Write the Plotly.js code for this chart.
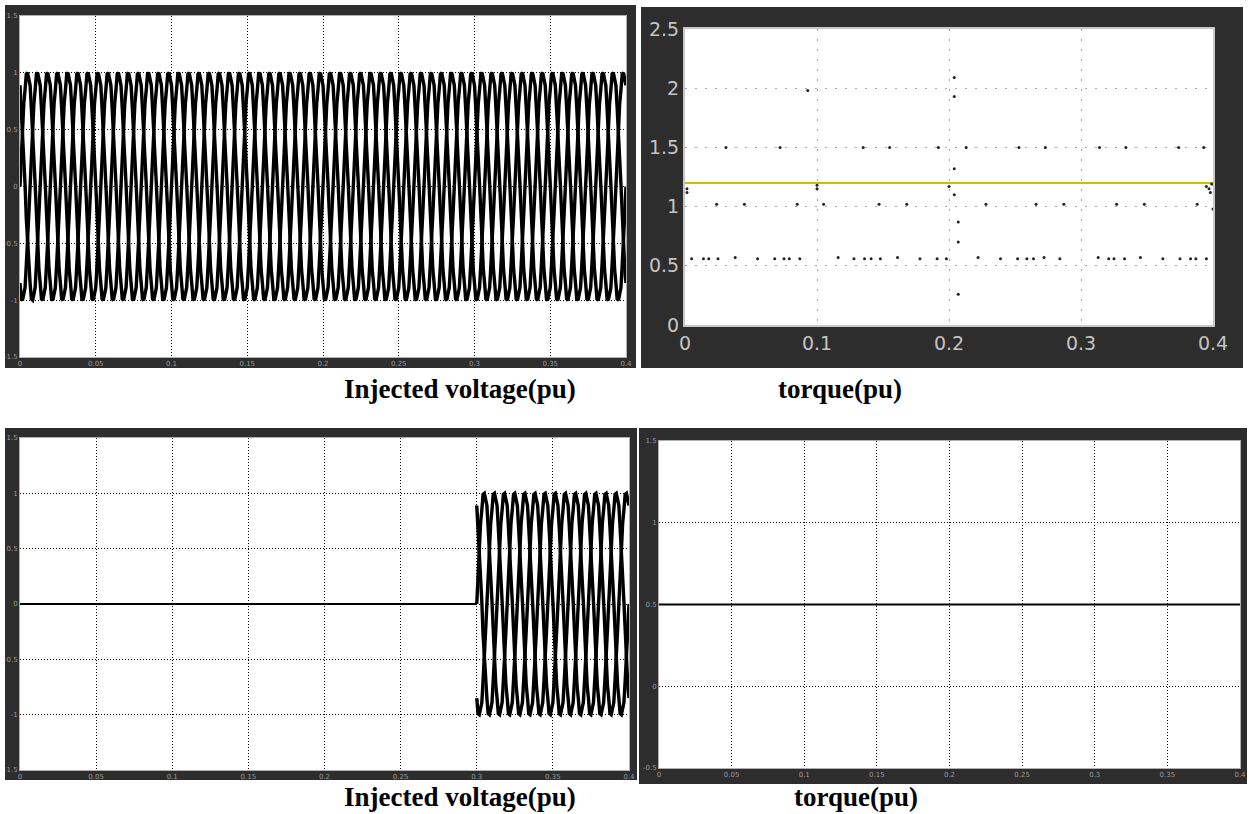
<!DOCTYPE html>
<html>
<head>
<meta charset="utf-8">
<script src="https://cdn.plot.ly/plotly-3.0.1.min.js"></script>
<style>
html,body{margin:0;padding:0;background:#fff;}
#chart{width:1249px;height:814px;}
</style>
</head>
<body>
<div id="chart"></div>
<script>
// ---------- data ----------
// one period of the injected three-phase voltage (pu), 24 samples (with PWM ripple)
const cycleSamples = [0, 0.28, 0.48, 0.73, 0.85, 0.99, 1, 0.95, 0.89, 0.69, 0.52, 0.24,
                      0.02, -0.28, -0.48, -0.73, -0.85, -0.99, -1, -0.95, -0.89, -0.69, -0.52, -0.24];
const supplyFreqHz = 50;
const phaseOffsets = [0, 8, 16];          // 120 degree shifts, in samples
const simEndTime = 0.4;
const injectStartTime = 0.3;              // lower-left: injection starts at 0.3 s

const voltTickVals = [-1.5, -1, -0.5, 0, 0.5, 1, 1.5];
const voltTickText = ["-1.5", "-1", "-0.5", "0", "0.5", "1", "1.5"];
const timeTickVals = [0, 0.05, 0.1, 0.15, 0.2, 0.25, 0.3, 0.35, 0.4];
const timeTickText = ["0", "0.05", "0.1", "0.15", "0.2", "0.25", "0.3", "0.35", "0.4"];

// top-right torque
const torqueLineT = [0, 0.4];
const torqueLineY = [1.2, 1.2];
const torqueDotsT = [0.031, 0.072, 0.135, 0.155, 0.192, 0.213, 0.253, 0.273, 0.314, 0.334, 0.374, 0.393,
  0.093,
  0.204, 0.204, 0.204, 0.200, 0.204, 0.207, 0.207, 0.207,
  0.024, 0.045, 0.085, 0.105, 0.147, 0.168, 0.228, 0.266, 0.287, 0.327, 0.348, 0.388,
  0.005, 0.014, 0.018, 0.025, 0.038, 0.055, 0.068, 0.075, 0.079, 0.087,
  0.116, 0.128, 0.136, 0.141, 0.148, 0.161, 0.178, 0.191, 0.198,
  0.222, 0.239, 0.252, 0.259, 0.264, 0.272, 0.284,
  0.313, 0.321, 0.325, 0.333, 0.345, 0.362, 0.375, 0.383, 0.387, 0.395,
  0.0015, 0.0015, 0.1, 0.1, 0.395, 0.397, 0.398, 0.399, 0.4];
const torqueDotsY = [1.5, 1.5, 1.5, 1.5, 1.5, 1.5, 1.5, 1.5, 1.5, 1.5, 1.5, 1.5,
  1.98,
  2.09, 1.93, 1.32, 1.17, 1.10, 0.87, 0.70, 0.26,
  1.02, 1.02, 1.02, 1.02, 1.02, 1.02, 1.02, 1.02, 1.02, 1.02, 1.02, 1.02,
  0.56, 0.56, 0.56, 0.56, 0.57, 0.56, 0.56, 0.56, 0.56, 0.56,
  0.57, 0.56, 0.56, 0.56, 0.56, 0.57, 0.56, 0.56, 0.56,
  0.57, 0.56, 0.56, 0.56, 0.56, 0.57, 0.56,
  0.57, 0.56, 0.56, 0.56, 0.57, 0.56, 0.56, 0.56, 0.56, 0.56,
  1.15, 1.12, 1.18, 1.15, 1.17, 1.15, 1.12, 1.19, 0.98];
const torqueTickValsX = [0, 0.1, 0.2, 0.3, 0.4];
const torqueTickTextX = ["0", "0.1", "0.2", "0.3", "0.4"];
const torqueTickValsY = [0, 0.5, 1, 1.5, 2, 2.5];
const torqueTickTextY = ["0", "0.5", "1", "1.5", "2", "2.5"];

// lower-right torque
const torque2LineT = [0, 0.4];
const torque2LineY = [0.5, 0.5];
const torque2TickVals = [-0.5, 0, 0.5, 1, 1.5];
const torque2TickText = ["-0.5", "0", "0.5", "1", "1.5"];

const captions = ["Injected voltage(pu)", "torque(pu)", "Injected voltage(pu)", "torque(pu)"];

// ---------- build waveform traces by tiling the read period ----------
function tilePhase(offset, tStart, tEnd) {
  const n = cycleSamples.length;
  const dt = 1 / supplyFreqHz / n;
  const xs = [], ys = [];
  const k0 = Math.round(tStart / dt), k1 = Math.round(tEnd / dt);
  for (let k = k0; k <= k1; k++) {
    xs.push(k * dt);
    ys.push(cycleSamples[(k + offset) % n]);
  }
  return {x: xs, y: ys};
}

const W = 1249, H = 814;
const px = v => v / W;
const py = v => 1 - v / H;

const waveLine = {color: '#000', width: 3.4};
const traces = [];
phaseOffsets.forEach(off => {
  const p = tilePhase(off, 0, simEndTime);
  traces.push({x: p.x, y: p.y, xaxis: 'x', yaxis: 'y', mode: 'lines', line: waveLine, hoverinfo: 'skip'});
});
traces.push({x: [0, injectStartTime], y: [0, 0], xaxis: 'x3', yaxis: 'y3', mode: 'lines',
  line: {color: '#000', width: 2.2}, hoverinfo: 'skip'});
phaseOffsets.forEach(off => {
  const p = tilePhase(off, injectStartTime, simEndTime);
  traces.push({x: p.x, y: p.y, xaxis: 'x3', yaxis: 'y3', mode: 'lines', line: waveLine, hoverinfo: 'skip'});
});
traces.push({x: torqueLineT, y: torqueLineY, xaxis: 'x2', yaxis: 'y2', mode: 'lines',
  line: {color: '#c8c000', width: 2}, hoverinfo: 'skip'});
traces.push({x: torqueDotsT, y: torqueDotsY, xaxis: 'x2', yaxis: 'y2', mode: 'markers',
  marker: {color: '#222', size: 3}, hoverinfo: 'skip'});
traces.push({x: torque2LineT, y: torque2LineY, xaxis: 'x4', yaxis: 'y4', mode: 'lines',
  line: {color: '#000', width: 2.2}, hoverinfo: 'skip'});

// ---------- layout ----------
const smallFont = {family: 'DejaVu Sans', size: 7, color: '#9a9a9a'};
function scopeAxis(domain, range, vals, text, anchor, extra) {
  return Object.assign({
    domain: domain, range: range, anchor: anchor,
    tickmode: 'array', tickvals: vals, ticktext: text,
    showgrid: true, gridcolor: '#000', gridwidth: 1, griddash: '1px,2px',
    zeroline: false, showline: true, linecolor: '#b0b0b0', linewidth: 1, mirror: true,
    ticks: '', tickfont: smallFont, fixedrange: true
  }, extra || {});
}

const panels = [
  {frame: [5, 5, 636, 368], plot: [20, 16, 626, 357]},
  {frame: [641, 7, 1243, 368], plot: [685, 29, 1213, 325]},
  {frame: [5, 428, 637, 780], plot: [20, 438, 629, 770]},
  {frame: [639, 428, 1247, 784], plot: [659, 441, 1240, 768]}
];
const shapes = [];
panels.forEach(p => {
  shapes.push({type: 'rect', xref: 'paper', yref: 'paper', layer: 'below',
    x0: px(p.frame[0]), x1: px(p.frame[2]), y0: py(p.frame[3]), y1: py(p.frame[1]),
    fillcolor: '#2d2d2d', line: {width: 0}});
  shapes.push({type: 'rect', xref: 'paper', yref: 'paper', layer: 'below',
    x0: px(p.plot[0]), x1: px(p.plot[2]), y0: py(p.plot[3]), y1: py(p.plot[1]),
    fillcolor: '#ffffff', line: {width: 0}});
});
const dom = i => ({x: [px(panels[i].plot[0]), px(panels[i].plot[2])],
                   y: [py(panels[i].plot[3]), py(panels[i].plot[1])]});

const bigFont = {family: 'DejaVu Sans', size: 19, color: '#c4c4c4'};
const capFont = {family: 'Liberation Serif', size: 27, color: '#000', weight: 'bold'};

const trGrid = {gridcolor: '#a8a8a8', griddash: '2px,8px', tickfont: bigFont, linecolor: '#c8c8c8', linewidth: 2};

function caption(i, x, y) {
  return {text: captions[i], x: px(x), y: py(y), xref: 'paper', yref: 'paper',
          xanchor: 'center', yanchor: 'middle', showarrow: false, font: capFont};
}

const layout = {
  width: W, height: H, margin: {l: 0, r: 0, t: 0, b: 0},
  paper_bgcolor: '#fff', plot_bgcolor: 'rgba(0,0,0,0)', showlegend: false,
  shapes: shapes,
  xaxis: scopeAxis(dom(0).x, [0, 0.4], timeTickVals, timeTickText, 'y'),
  yaxis: scopeAxis(dom(0).y, [-1.5, 1.5], voltTickVals, voltTickText, 'x'),
  xaxis2: scopeAxis(dom(1).x, [0, 0.4], torqueTickValsX, torqueTickTextX, 'y2', trGrid),
  yaxis2: scopeAxis(dom(1).y, [0, 2.5], torqueTickValsY, torqueTickTextY, 'x2', trGrid),
  xaxis3: scopeAxis(dom(2).x, [0, 0.4], timeTickVals, timeTickText, 'y3'),
  yaxis3: scopeAxis(dom(2).y, [-1.5, 1.5], voltTickVals, voltTickText, 'x3'),
  xaxis4: scopeAxis(dom(3).x, [0, 0.4], timeTickVals, timeTickText, 'y4'),
  yaxis4: scopeAxis(dom(3).y, [-0.5, 1.5], torque2TickVals, torque2TickText, 'x4'),
  annotations: [caption(0, 460, 389), caption(1, 840, 389), caption(2, 460, 797), caption(3, 856, 797)]
};

Plotly.newPlot('chart', traces, layout, {staticPlot: true, displayModeBar: false});
</script>
</body>
</html>
